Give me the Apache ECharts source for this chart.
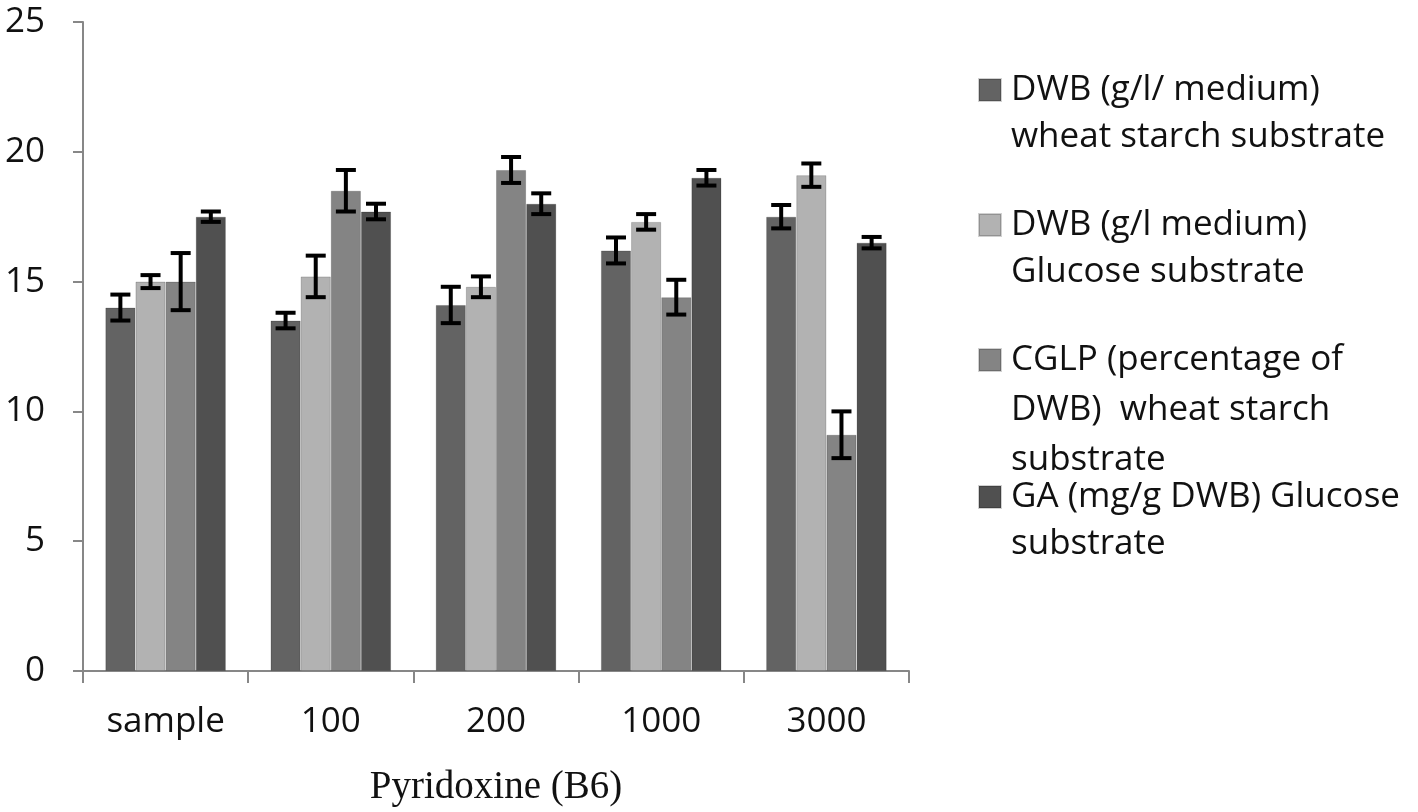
<!DOCTYPE html>
<html>
<head>
<meta charset="utf-8">
<script src="https://cdn.jsdelivr.net/npm/echarts@6/dist/echarts.min.js"></script>
<style>
html,body{margin:0;padding:0;background:#fff;}
#main{width:1418px;height:812px;}
</style>
</head>
<body>
<div id="main"></div>
<script>
var categories = ['sample', '100', '200', '1000', '3000'];
var seriesNames = [
  'DWB (g/l/ medium)\nwheat starch substrate',
  'DWB (g/l medium)\nGlucose substrate',
  'CGLP (percentage of\nDWB)  wheat starch\nsubstrate',
  'GA (mg/g DWB) Glucose\nsubstrate'
];
var dwbWheat = [14.0, 13.5, 14.1, 16.2, 17.5];
var dwbGlucose = [15.0, 15.2, 14.8, 17.3, 19.1];
var cglpWheat = [15.0, 18.5, 19.3, 14.4, 9.1];
var gaGlucose = [17.5, 17.7, 18.0, 19.0, 16.5];
var errDwbWheat = [0.5, 0.3, 0.7, 0.5, 0.45];
var errDwbGlucose = [0.25, 0.8, 0.4, 0.3, 0.45];
var errCglpWheat = [1.1, 0.8, 0.5, 0.67, 0.9];
var errGaGlucose = [0.2, 0.3, 0.4, 0.3, 0.22];
var yTicks = [0, 5, 10, 15, 20, 25];

var values = [dwbWheat, dwbGlucose, cglpWheat, gaGlucose];
var errors = [errDwbWheat, errDwbGlucose, errCglpWheat, errGaGlucose];
var colors = ['#636363', '#b2b2b2', '#848484', '#505050'];
var GAP = 0.27;

var chart = echarts.init(document.getElementById('main'));

var series = [];
values.forEach(function (vals, k) {
  series.push({
    type: 'bar',
    name: seriesNames[k],
    data: vals,
    barGap: '0%',
    barCategoryGap: (GAP * 100) + '%',
    itemStyle: { color: colors[k], borderColor: 'rgba(0,0,0,0.18)', borderWidth: 1 },
    emphasis: { disabled: true }
  });
});
values.forEach(function (vals, k) {
  series.push({
    type: 'custom',
    name: 'err' + k,
    z: 10,
    data: vals.map(function (v, i) { return [i, v, errors[k][i]]; }),
    renderItem: function (params, api) {
      var xi = api.value(0), v = api.value(1), e = api.value(2);
      var band = api.size([1, 0])[0];
      var bw = band * (1 - GAP) / 4;
      var cx = api.coord([xi, v])[0] + (k - 1.5) * bw;
      var top = api.coord([xi, v + e])[1];
      var bot = api.coord([xi, v - e])[1];
      var hw = 10;
      var st = { stroke: '#000', lineWidth: 4 };
      return {
        type: 'group',
        children: [
          { type: 'line', shape: { x1: cx, y1: top, x2: cx, y2: bot }, style: st },
          { type: 'line', shape: { x1: cx - hw, y1: top, x2: cx + hw, y2: top }, style: st },
          { type: 'line', shape: { x1: cx - hw, y1: bot, x2: cx + hw, y2: bot }, style: st }
        ]
      };
    }
  });
});

var LH = 47;
function legendFor(k, centerY, lh) {
  var lines = seriesNames[k].split('\n').length;
  var total = 2 * lines - 1;
  return {
    data: [seriesNames[k]],
    orient: 'vertical',
    left: 978,
    top: centerY - total * lh / 2,
    padding: 0,
    icon: 'rect',
    itemWidth: 22,
    itemHeight: 22,
    selectedMode: false,
    formatter: function (name) {
      var pre = '';
      for (var i = 1; i < lines; i++) pre += '\u00a0\n';
      return pre + name;
    },
    textStyle: {
      fontFamily: 'Open Sans',
      fontSize: 35,
      color: '#111',
      lineHeight: lh,
      padding: [0, 0, 0, 5]
    }
  };
}

var option = {
  animation: false,
  backgroundColor: '#fff',
  grid: { left: 83, right: 509, top: 22, bottom: 137, containLabel: false },
  legend: [legendFor(0, 90, LH), legendFor(1, 225, LH), legendFor(2, 360, 50), legendFor(3, 497, LH)],
  xAxis: {
    type: 'category',
    data: categories,
    name: 'Pyridoxine (B6)',
    nameLocation: 'middle',
    nameGap: 97,
    nameTextStyle: { fontFamily: 'Liberation Serif', fontSize: 39, color: '#111' },
    axisLine: { lineStyle: { color: '#878787', width: 2 } },
    axisTick: { show: true, length: 12, lineStyle: { color: '#878787', width: 2 } },
    axisLabel: { fontFamily: 'Open Sans', fontSize: 35, color: '#111', margin: 34 }
  },
  yAxis: {
    type: 'value',
    min: yTicks[0],
    max: yTicks[yTicks.length - 1],
    interval: 5,
    splitLine: { show: false },
    axisLine: { show: true, lineStyle: { color: '#878787', width: 2 } },
    axisTick: { show: true, length: 10, lineStyle: { color: '#878787', width: 2 } },
    axisLabel: { fontFamily: 'Open Sans', fontSize: 35, color: '#111', margin: 38 }
  },
  series: series
};
chart.setOption(option);
</script>
</body>
</html>
